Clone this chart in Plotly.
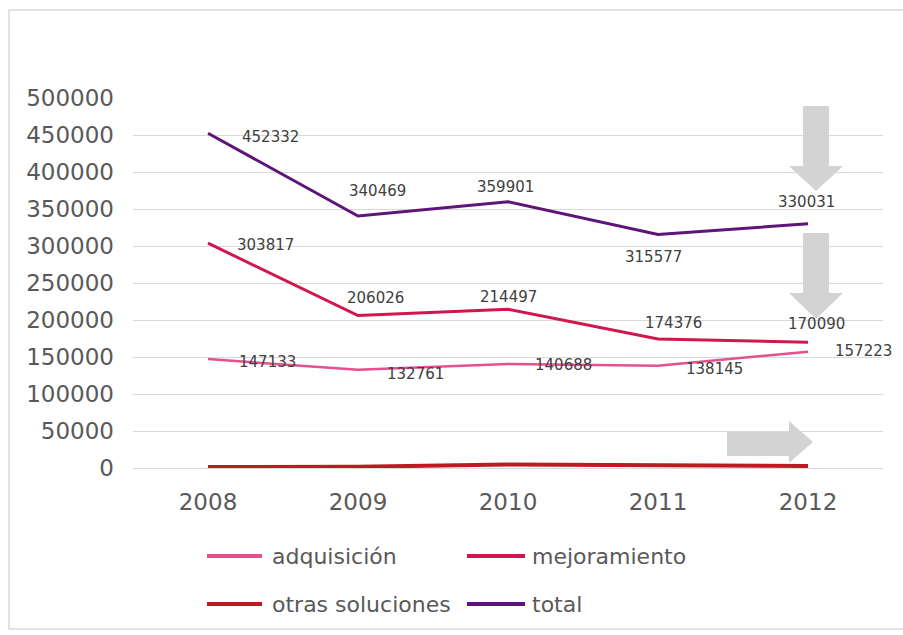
import plotly.graph_objects as go

# ---- data ----
years = ["2008", "2009", "2010", "2011", "2012"]
adquisicion = [147133, 132761, 140688, 138145, 157223]
mejoramiento = [303817, 206026, 214497, 174376, 170090]
otras_soluciones = [1382, 1682, 4716, 3056, 2718]
total = [452332, 340469, 359901, 315577, 330031]
y_ticks = [0, 50000, 100000, 150000, 200000, 250000, 300000, 350000, 400000, 450000, 500000]

series_names = ["adquisición", "mejoramiento", "otras soluciones", "total"]
series_colors = {
    "adquisición": "#E5508F",
    "mejoramiento": "#D1164F",
    "otras soluciones": "#BE1A22",
    "total": "#5E1479",
}
series_widths = {"adquisición": 2.5, "mejoramiento": 3, "otras soluciones": 4, "total": 3}
series_values = {
    "adquisición": adquisicion,
    "mejoramiento": mejoramiento,
    "otras soluciones": otras_soluciones,
    "total": total,
}

# label offsets (px) relative to each point
label_offsets = {
    "total": [(62, -4), (19, 25), (-3, 15), (-5, -23), (-2, 22)],
    "mejoramiento": [(57, -2), (17, 18), (0, 12), (15, 16), (8, 18)],
    "adquisición": [(59, -3), (57, -4), (55, -1), (56, -3), (55, 1)],
}

FONT = "DejaVu Sans"
TEXT_GREY = "#595959"

# plot area geometry in pixels (used for decorations)
L, R, T, B = 133, 20, 98, 167
W, H = 903, 635
PW, PH = W - L - R, H - T - B


def px(x):
    return (x - L) / PW


def py(y):
    return (T + PH - y) / PH


fig = go.Figure()

for name in ["otras soluciones", "adquisición", "mejoramiento", "total"]:
    fig.add_trace(go.Scatter(
        x=years, y=series_values[name], mode="lines", name=name,
        line=dict(color=series_colors[name], width=series_widths[name]),
        showlegend=False, hoverinfo="x+y+name",
    ))

annotations = []
for name, offs in label_offsets.items():
    # category axis: annotations are placed by category index
    for idx, (val, (dx, dy)) in enumerate(zip(series_values[name], offs)):
        annotations.append(dict(
            x=idx, y=val, xref="x", yref="y", text=str(val), showarrow=False,
            xshift=dx, yshift=dy, font=dict(family=FONT, size=15, color="#404040"),
        ))

# legend drawn as line samples and labels below the axis
legend_slots = [
    ("adquisición", 207, 262, 270, 556),
    ("mejoramiento", 467, 525, 530, 556),
    ("otras soluciones", 207, 262, 270, 604),
    ("total", 467, 525, 530, 604),
]
shapes = []
for name, x0, x1, xt, yy in legend_slots:
    shapes.append(dict(type="line", xref="paper", yref="paper",
                       x0=px(x0), x1=px(x1), y0=py(yy), y1=py(yy),
                       line=dict(color=series_colors[name], width=4)))
    annotations.append(dict(x=px(xt), y=py(yy), xref="paper", yref="paper",
                            text=name, showarrow=False, xanchor="left", yanchor="middle",
                            font=dict(family=FONT, size=22, color=TEXT_GREY)))

# chart border
shapes.append(dict(type="rect", xref="paper", yref="paper", layer="below",
                   x0=px(9), x1=px(910), y0=py(629), y1=py(10),
                   line=dict(color="#D9D9D9", width=1.5), fillcolor="rgba(0,0,0,0)"))

ARROW = "#D3D3D3"


def down_arrow(xl, xr, hl, hr, top, neck, tip):
    xm = (hl + hr) / 2
    pts = [(xl, top), (xr, top), (xr, neck), (hr, neck), (xm, tip), (hl, neck), (xl, neck)]
    return "M " + " L ".join(f"{px(a):.5f},{py(b):.5f}" for a, b in pts) + " Z"


def right_arrow(left, neck, tip, bt, bb, ht, hb):
    ym = (ht + hb) / 2
    pts = [(left, bt), (neck, bt), (neck, ht), (tip, ym), (neck, hb), (neck, bb), (left, bb)]
    return "M " + " L ".join(f"{px(a):.5f},{py(b):.5f}" for a, b in pts) + " Z"


for path in [
    down_arrow(803, 829, 789, 843, 106, 166, 191),
    down_arrow(803, 829, 789, 843, 233, 293, 319),
    right_arrow(727, 789, 813, 432, 456, 421, 463),
]:
    shapes.append(dict(type="path", xref="paper", yref="paper", path=path,
                       fillcolor=ARROW, line=dict(width=0), layer="above"))

fig.update_layout(
    width=W, height=H,
    margin=dict(l=L, r=R, t=T, b=B),
    paper_bgcolor="white", plot_bgcolor="white",
    font=dict(family=FONT, color=TEXT_GREY),
    xaxis=dict(type="category", range=[-0.5, 4.5], showgrid=False, zeroline=False,
               showline=False, ticks="", tickfont=dict(size=23, color=TEXT_GREY),
               ticklabelstandoff=18),
    yaxis=dict(range=[0, 500000], tickvals=y_ticks, ticktext=[str(v) for v in y_ticks],
               showgrid=True, gridcolor="#D9D9D9", gridwidth=1,
               zeroline=True, zerolinecolor="#D9D9D9", zerolinewidth=1,
               showline=False, ticks="", tickfont=dict(size=23, color=TEXT_GREY),
               ticklabelstandoff=18),
    annotations=annotations,
    shapes=shapes,
    showlegend=False,
)

fig.write_html("out.html")
